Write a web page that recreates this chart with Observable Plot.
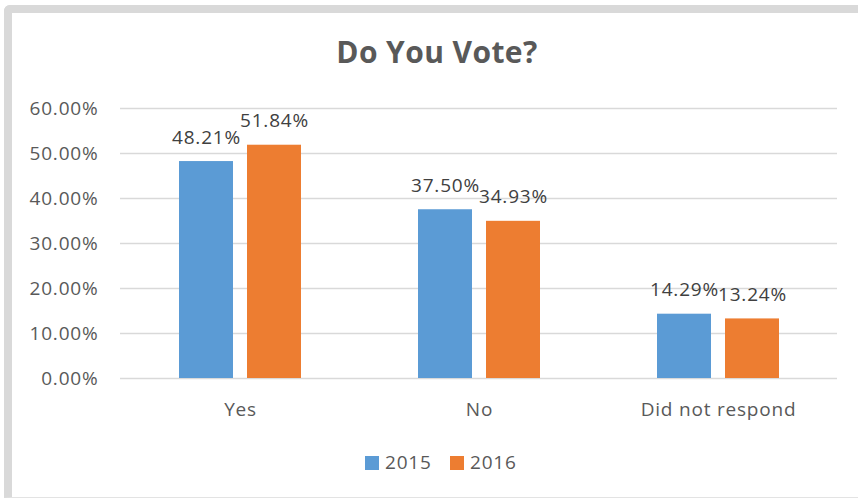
<!DOCTYPE html>
<html>
<head>
<meta charset="utf-8">
<script src="https://cdn.jsdelivr.net/npm/d3@7"></script>
<script src="https://cdn.jsdelivr.net/npm/@observablehq/plot@0.6"></script>
<style>
  html, body { margin: 0; padding: 0; background: #fff; overflow: hidden; }
  #wrap { position: relative; width: 858px; height: 498px; font-family: "Open Sans", sans-serif; }
  #frame { position: absolute; left: 4px; top: 5px; width: 870px; height: 484px;
    border-top: 8px solid #d9d9d9; border-left: 8px solid #d9d9d9; border-bottom: 1px solid #e3e3e3;
    border-top-left-radius: 6px; box-sizing: content-box; }
  .layer { position: absolute; left: 0; top: 0; }
  .layer svg text { letter-spacing: 0.8px; }
  #title { position: absolute; left: 437px; top: 37px; transform: translateX(-50%);
    font-size: 30px; font-weight: 700; line-height: 1; color: #595959; white-space: nowrap; letter-spacing: 0.4px; }
  .sw { position: absolute; width: 14px; height: 14px; top: 456px; }
  .lt { position: absolute; top: 453px; font-size: 19px; line-height: 1; color: #595959; letter-spacing: 0.8px; }
</style>
</head>
<body>
<div id="wrap">
  <div id="frame"></div>
  <div id="grid" class="layer"></div>
  <div id="chart" class="layer"></div>
  <div id="title">Do You Vote?</div>
  <div id="legend"></div>
</div>
<script>
const categories = ["Yes", "No", "Did not respond"];
const years = ["2015", "2016"];
const values2015 = [0.4821, 0.3750, 0.1429];
const values2016 = [0.5184, 0.3493, 0.1324];
const yTicks = [0, 0.1, 0.2, 0.3, 0.4, 0.5, 0.6];
const colors = ["#5b9bd5", "#ed7d31"];

const pct = v => (v * 100).toFixed(2) + "%";
const data = categories.flatMap((c, i) => [
  {cat: c, year: years[0], value: values2015[i]},
  {cat: c, year: years[1], value: values2016[i]}
]);

const common = {
  width: 858,
  height: 498,
  marginTop: 108,
  marginBottom: 120,
  marginLeft: 120,
  marginRight: 21,
  style: {background: "transparent", fontFamily: "Open Sans, sans-serif", fontSize: "19px", color: "#595959"},
  y: {domain: [0, 0.6], axis: null}
};

// Layer 1: gridlines and y axis across the whole plot area
const gridPlot = Plot.plot({
  ...common,
  marks: [
    Plot.gridY(yTicks, {stroke: "#d9d9d9", strokeOpacity: 1, strokeWidth: 1.3}),
    Plot.axisY(yTicks, {tickSize: 0, tickPadding: 22, tickFormat: pct, fill: "#595959", label: null})
  ]
});
document.getElementById("grid").appendChild(gridPlot);

// Layer 2: grouped bars, data labels, category axis
const chart = Plot.plot({
  ...common,
  fx: {domain: categories, paddingInner: 0.49, paddingOuter: 0.245, label: null},
  x: {domain: years, paddingInner: 0.206, paddingOuter: 0, axis: null},
  color: {domain: years, range: colors},
  marks: [
    Plot.axisFx({anchor: "bottom", tickSize: 0, tickPadding: 24, label: null, fill: "#595959"}),
    Plot.barY(data, {fx: "cat", x: "year", y: "value", fill: "year"}),
    Plot.text(data, {fx: "cat", x: "year", y: "value", text: d => pct(d.value), dy: -24, fill: "#404040"})
  ]
});
document.getElementById("chart").appendChild(chart);

const legend = document.getElementById("legend");
const swX = [365, 450];
const txX = [385, 470];
years.forEach((y, i) => {
  const s = document.createElement("div");
  s.className = "sw";
  s.style.left = swX[i] + "px";
  s.style.background = colors[i];
  legend.appendChild(s);
  const t = document.createElement("div");
  t.className = "lt";
  t.style.left = txX[i] + "px";
  t.textContent = y;
  legend.appendChild(t);
});
</script>
</body>
</html>
